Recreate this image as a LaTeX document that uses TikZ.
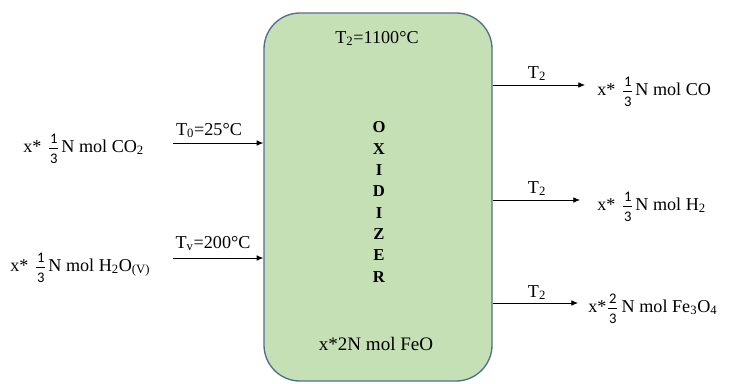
\documentclass[tikz,border=0pt]{standalone}
\usepackage{fontspec}
\setmainfont{Liberation Serif}
\newfontfamily\digfont{Carlito}
\usetikzlibrary{arrows.meta}
\definecolor{boxfill}{HTML}{C5E0B4}
\definecolor{boxline}{HTML}{4F6F8F}
\newcommand{\myfr}[2]{\makebox[6.5pt]{\rlap{\raisebox{6.75pt}{\makebox[6.5pt]{\digfont\fontsize{11}{11}\selectfont #1}}}\rlap{\raisebox{2.25pt}{\rule{6.5pt}{0.5pt}}}\raisebox{-8.25pt}{\makebox[6.5pt]{\digfont\fontsize{11}{11}\selectfont #2}}}}
\begin{document}
\begin{tikzpicture}[x=0.75pt,y=-0.75pt,
  every node/.style={font=\fontsize{13.6}{16}\selectfont, inner sep=0pt},
  arr/.style={draw=black, line width=0.6pt, -{Latex[length=5pt,width=4.2pt]}}]
\useasboundingbox (0,0) rectangle (730,383);
\node[draw=boxline, line width=1pt, fill=boxfill, rounded corners=27pt,
  minimum width=171pt, minimum height=276pt] (ox) at (378,197) {};
\node[anchor=base] (tt) at (377,43) {T\textsubscript{2}=1100°C};
\node[font=\fontsize{12.5}{16}\selectfont\bfseries, align=center] (name) at (379,202)
  {O\\X\\I\\D\\I\\Z\\E\\R};
\node[anchor=base, font=\fontsize{14.3}{16}\selectfont] (feo) at (376,350) {x*2N mol FeO};
% inputs
\node[anchor=base west] (i1) at (23,152) {x*\hspace{6pt}\myfr{1}{3}\hspace{2.5pt}N mol CO\textsubscript{2}};
\node[anchor=base west] (i2) at (10,271) {x*\hspace{6pt}\myfr{1}{3}\hspace{2.5pt}N mol H\textsubscript{2}O\textsubscript{(V)}};
\coordinate (a1) at (173,143);
\coordinate (a2) at (173,258);
\draw[arr] (a1) -- (a1 -| ox.west);
\draw[arr] (a2) -- (a2 -| ox.west);
\node[anchor=base] (l1) at (209,135) {T\textsubscript{0}=25°C};
\node[anchor=base] (l2) at (213,248) {T\textsubscript{v}=200°C};
% outputs
\coordinate (b1) at (585,85);
\coordinate (b2) at (580,200);
\coordinate (b3) at (578,303);
\draw[arr] (b1 -| ox.east) -- (b1);
\draw[arr] (b2 -| ox.east) -- (b2);
\draw[arr] (b3 -| ox.east) -- (b3);
\node[anchor=base] (m1) at (537,78) {T\textsubscript{2}};
\node[anchor=base] (m2) at (537,193) {T\textsubscript{2}};
\node[anchor=base] (m3) at (537,297) {T\textsubscript{2}};
\node[anchor=base west] (o1) at (597,95) {x*\hspace{6pt}\myfr{1}{3}\hspace{2.5pt}N mol CO};
\node[anchor=base west] (o2) at (597,210) {x*\hspace{6pt}\myfr{1}{3}\hspace{2.5pt}N mol H\textsubscript{2}};
\node[anchor=base west] (o3) at (588,312) {x*\hspace{1.5pt}\myfr{2}{3}\hspace{3.5pt}N mol Fe\textsubscript{3}O\textsubscript{4}};
\end{tikzpicture}
\end{document}
